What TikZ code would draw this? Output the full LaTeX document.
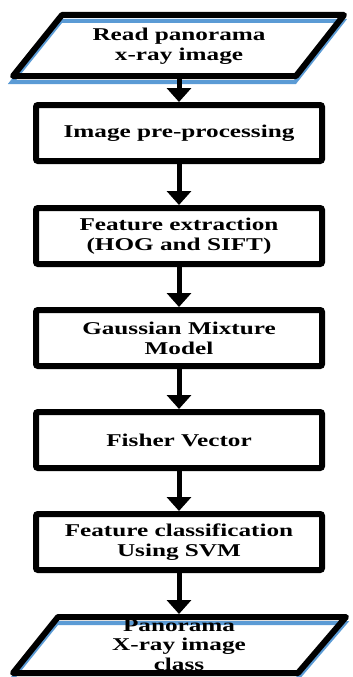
\documentclass[tikz,border=0pt]{standalone}
\usepackage{fontspec}
\setmainfont{Liberation Serif}[FakeStretch=1.4]
\usetikzlibrary{arrows.meta}
\definecolor{ioblue}{RGB}{91,155,213}
\tikzset{
  stepbox/.style={draw, line width=6pt, rounded corners=2pt, minimum width=286pt,
    minimum height=56pt, inner sep=0pt, align=center,
    font=\bfseries\fontsize{18}{20}\selectfont},
  ioline/.style={line width=6pt, line join=round},
  ioshade/.style={ioblue, line width=4pt, xshift=-1pt, yshift=-6pt},
  iotext/.style={align=center, inner sep=0pt, font=\bfseries\fontsize{18}{19.5}\selectfont},
  flow/.style={line width=5pt, -{Triangle[width=24pt,length=14pt]}}
}
\begin{document}
\begin{tikzpicture}[x=1pt,y=1pt]
  \useasboundingbox (0,0) rectangle (353,-677);
  % input / output
  \draw[ioshade] (62,-15) -- (344,-15) -- (296,-76) -- (13,-76) -- cycle;
  \draw[ioline] (62,-15) -- (344,-15) -- (296,-76) -- (13,-76) -- cycle;
  \node[iotext] (read) at (179,-46) {Read panorama\\x-ray image};
  \coordinate (readout) at (179,-79);
  \draw[ioshade] (58,-617) -- (346,-617) -- (298,-673) -- (13,-673) -- cycle;
  \draw[ioline] (58,-617) -- (346,-617) -- (298,-673) -- (13,-673) -- cycle;
  \node[iotext] (class) at (179,-645) {Panorama\\X-ray image\\class};
  \coordinate (classin) at (179,-614);
  % processing steps
  \node[stepbox] (prep) at (179,-133) {Image pre-processing};
  \node[stepbox] (feat) at (179,-236) {Feature extraction\\(HOG and SIFT)};
  \node[stepbox] (gmm) at (179,-338) {Gaussian Mixture\\Model};
  \node[stepbox] (fisher) at (179,-440) {Fisher Vector};
  \node[stepbox] (svm) at (179,-542) {Feature classification\\Using SVM};
  % arrows
  \draw[flow] (readout) -- (prep.north);
  \draw[flow] (prep) -- (feat);
  \draw[flow] (feat) -- (gmm);
  \draw[flow] (gmm) -- (fisher);
  \draw[flow] (fisher) -- (svm);
  \draw[flow] (svm) -- (classin);
\end{tikzpicture}
\end{document}
